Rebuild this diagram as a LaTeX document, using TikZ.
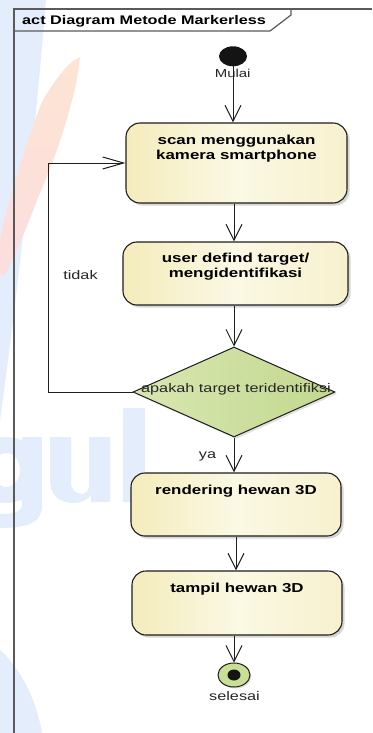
\documentclass[tikz,border=0pt]{standalone}
\usepackage{fontspec}
\setmainfont{Liberation Sans}
\usepackage{graphicx}
\usetikzlibrary{arrows.meta,shapes.geometric,shadows,calc}

% palette
\definecolor{frameln}{RGB}{90,90,90}
\definecolor{edge}{RGB}{30,30,30}
\definecolor{actL}{RGB}{244,236,188}
\definecolor{actM}{RGB}{251,248,228}
\definecolor{actR}{RGB}{247,241,206}
\definecolor{decL}{RGB}{216,231,178}
\definecolor{decR}{RGB}{194,216,142}
\definecolor{finalfill}{RGB}{200,224,150}
\definecolor{wmblue}{RGB}{228,237,252}
\definecolor{wmorange}{RGB}{253,228,212}
\definecolor{wmred}{RGB}{252,222,222}

% horizontally widened text, as set by the modelling tool
\newcommand{\hs}[1]{\scalebox{1.3}[1]{#1}}

\tikzset{
  frame/.style={draw=frameln, line width=1.2pt},
  actbox/.style={draw=edge, line width=1.1pt, rounded corners=14pt,
    left color=actL, right color=actR, middle color=actM,
    drop shadow={shadow xshift=2.5pt, shadow yshift=-2.5pt, fill=black!35, opacity=.45},
    inner sep=0pt},
  boxlbl/.style={font=\fontsize{13}{15}\selectfont\bfseries, align=center,
    inner sep=0pt, anchor=north, text=black},
  decision/.style={shape=diamond, draw=edge, line width=1pt, inner sep=0pt,
    left color=decL, right color=decR,
    drop shadow={shadow xshift=2pt, shadow yshift=-2pt, fill=black!30, opacity=.4}},
  plain/.style={font=\fontsize{12.5}{14}\selectfont, inner sep=0pt, text=black!85},
  startnode/.style={shape=ellipse, fill=black!92, draw=none, inner sep=0pt,
    minimum width=28pt, minimum height=20pt},
  finalnode/.style={shape=ellipse, fill=finalfill, draw=edge, line width=1pt,
    inner sep=0pt, minimum width=32pt, minimum height=24pt,
    drop shadow={shadow xshift=1.5pt, shadow yshift=-1.5pt, fill=black!30, opacity=.4}},
  finalcore/.style={shape=ellipse, fill=black!92, draw=none, inner sep=0pt,
    minimum width=13pt, minimum height=11pt},
  flow/.style={draw=edge, line width=1pt, -{Straight Barb[length=16pt,width=16pt]}},
  flowh/.style={draw=edge, line width=1pt, -{Straight Barb[length=21pt,width=12pt]}},
}

\begin{document}
\begin{tikzpicture}[x=1pt, y=-1pt]
\useasboundingbox (0,0) rectangle (372,733);
\fill[white] (0,0) rectangle (372,733);

% faint logo watermark in the background
\fill[wmblue] (0,0) -- (46,0) .. controls (36,120) and (22,260) .. (0,420) -- cycle;
\shade[top color=wmorange, bottom color=wmred]
  (80,57) .. controls (78,75) and (75,90) .. (72,100)
  .. controls (62,140) and (48,175) .. (37,200)
  .. controls (28,225) and (18,248) .. (5,275) -- (0,275) -- (0,240)
  .. controls (3,225) and (7,210) .. (10,200)
  .. controls (20,165) and (32,125) .. (43,100)
  .. controls (55,80) and (68,62) .. (80,57) -- cycle;
\fill[wmblue, even odd rule] (6,470) ellipse [x radius=36, y radius=33]
  (6,470) ellipse [x radius=14, y radius=17];
\fill[wmblue] (22,437) rectangle (42,510);
\fill[wmblue] (42,505) .. controls (42,522) and (30,528) .. (0,528) -- (0,514)
  .. controls (18,514) and (22,510) .. (22,505) -- cycle;
\fill[wmblue] (50,437) -- (71,437) -- (71,482) .. controls (71,490) and (76,494) .. (82,494)
  .. controls (86,494) and (89,490) .. (89,486) -- (89,437) -- (110,437) -- (110,502)
  -- (91,502) -- (91,495) .. controls (86,501) and (80,503) .. (74,503)
  .. controls (58,503) and (50,494) .. (50,480) -- cycle;
\fill[wmblue] (123,408) rectangle (145,502);
\fill[wmblue] (0,650) .. controls (20,668) and (36,698) .. (42,733) -- (0,733) -- cycle;

% activity frame with its name tab
\draw[frame] (14,733) -- (14,9) -- (372,9);
\draw[frame] (14,31) -- (270,31) -- (291,15) -- (291,9);
\node[font=\fontsize{12.5}{14}\selectfont\bfseries, inner sep=0pt, anchor=base west]
  (title) at (22,24.3) {\hs{act Diagram Metode Markerless}};

% initial node
\node[startnode] (start) at (233,56.3) {};
\node[plain, font=\fontsize{11.5}{13}\selectfont, anchor=base] (mulai) at (232.7,78) {\hs{Mulai}};

% actions
\node[actbox, minimum width=221pt, minimum height=80pt] (scan) at (236.5,163) {};
\node[boxlbl] (scanlbl) at ($(scan.north)+(0,12)$)
  {\hs{scan menggunakan}\\\hs{kamera smartphone}};

\node[actbox, minimum width=225pt, minimum height=63pt] (user) at (235.5,273.5) {};
\node[boxlbl] (userlbl) at ($(user.north)+(0,11.5)$)
  {\hs{user defind target/}\\\hs{mengidentifikasi}};

\node[decision, minimum width=202pt, minimum height=90pt] (dec) at (234,392) {};
\node[plain, anchor=base] (declbl) at (236,392) {\hs{apakah target teridentifiksi}};

\node[actbox, minimum width=210pt, minimum height=63pt] (render) at (236,504.5) {};
\node[boxlbl] (renderlbl) at ($(render.north)+(0,12)$) {\hs{rendering hewan 3D}};

\node[actbox, minimum width=210pt, minimum height=64pt] (tampil) at (237,603) {};
\node[boxlbl] (tampillbl) at ($(tampil.north)+(0,12)$) {\hs{tampil hewan 3D}};

% final node
\node[finalnode] (end) at (234,675) {};
\node[finalcore] (endcore) at (end.center) {};
\node[plain, anchor=base] (selesai) at (234.5,700) {\hs{selesai}};

% helper coordinates for the connector lines
\coordinate (spine) at (234,0);
\coordinate (spine2) at (236,0);
\coordinate (loopx) at (48,0);

% control flow
\draw[flow] (start.south) -- (scan.north -| start.south);
\draw[flow] (scan.south -| spine) -- (user.north -| spine);
\draw[flow] (user.south -| spine) -- (dec.north);
\draw[flow] (dec.south) -- (render.north -| dec.south);
\draw[flow] (render.south -| spine2) -- (tampil.north -| spine2);
\draw[flow] (tampil.south -| end.north) -- (end.north);
\draw[flowh] (dec.west) -- (dec.west -| loopx) |- (scan.west);

% guard labels
\node[plain, anchor=base] (tidak) at (80.5,279) {\hs{tidak}};
\node[plain, anchor=base] (ya) at (207.5,458.5) {\hs{ya}};
\end{tikzpicture}
\end{document}
